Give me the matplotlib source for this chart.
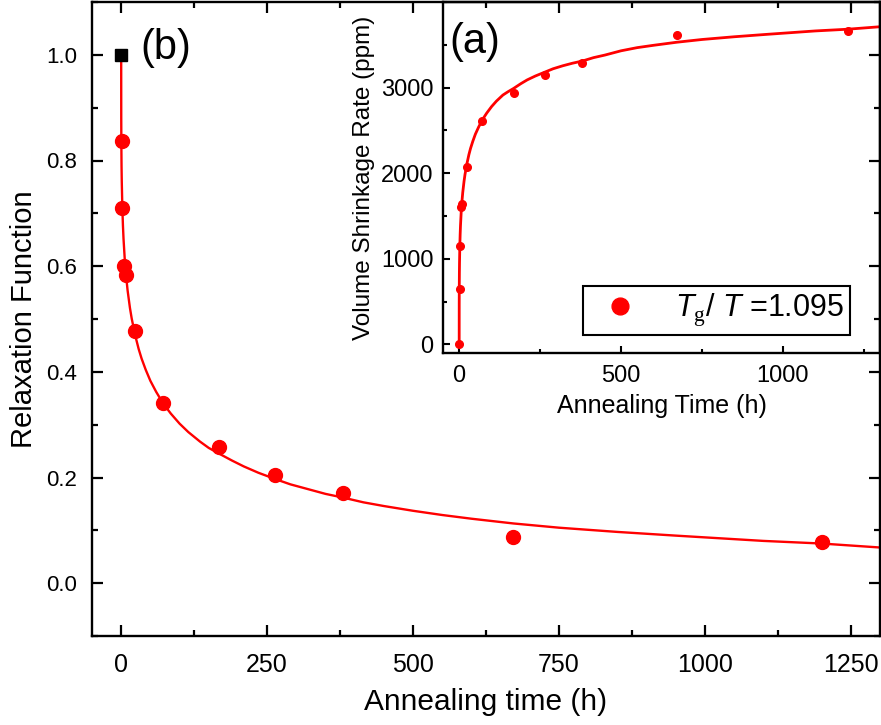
import numpy as np
import matplotlib.pyplot as plt
from matplotlib.ticker import MultipleLocator

plt.rcParams['font.family'] = ['Liberation Sans', 'Noto Sans CJK JP', 'DejaVu Sans']
plt.rcParams['mathtext.fontset'] = 'custom'
plt.rcParams['mathtext.it'] = 'Liberation Sans:italic'
plt.rcParams['mathtext.rm'] = 'Liberation Serif'

# relaxation function (b)
t_b = [1, 2, 5, 8, 24, 72, 168, 264, 380, 672, 1200]
phi_b = [0.837, 0.711, 0.600, 0.584, 0.477, 0.341, 0.257, 0.205, 0.171, 0.087, 0.077]
t_start = [0]
phi_start = [1.0]

# volume shrinkage (a)
t_a = [0, 1, 2, 5, 8, 24, 72, 168, 264, 380, 672, 1200]
v_a = [0, 649, 1146, 1601, 1644, 2072, 2615, 2942, 3148, 3292, 3618, 3661]

# fitted curves
t_fit = [0, 0.1, 0.3, 0.6, 1, 2, 3, 4, 6, 8, 11, 15, 18, 24, 30, 35, 42, 50, 60,
         72, 85, 100, 115, 135, 150, 168, 190, 210, 235, 264, 290, 320, 350, 380,
         415, 450, 500, 550, 600, 672, 750, 850, 950, 1100, 1200, 1300]
phi_fit = [1.0, 0.88, 0.83, 0.79, 0.76, 0.71, 0.677, 0.652, 0.615, 0.586, 0.554,
           0.521, 0.501, 0.469, 0.443, 0.425, 0.404, 0.383, 0.362, 0.340, 0.321,
           0.302, 0.286, 0.268, 0.256, 0.245, 0.232, 0.221, 0.209, 0.197, 0.187,
           0.178, 0.169, 0.162, 0.153, 0.146, 0.137, 0.129, 0.122, 0.113, 0.105,
           0.097, 0.090, 0.080, 0.075, 0.0675]
v_fit = [0, 478, 677, 836, 955, 1154, 1285, 1385, 1532, 1648, 1775, 1906, 1986,
         2113, 2217, 2289, 2372, 2456, 2539, 2627, 2702, 2778, 2842, 2913, 2950,
         2990, 3045, 3090, 3135, 3180, 3220, 3255, 3285, 3310, 3350, 3380, 3430,
         3467, 3494, 3530, 3562, 3594, 3622, 3662, 3682, 3711]

fig = plt.figure(figsize=(8.81, 7.25), dpi=100)
ax = fig.add_axes([92/881, 89/725, 788/881, 634/725])
ins = fig.add_axes([443/881, 372/725, 437/881, 351/725])
ax.set_zorder(2)
ax.patch.set_visible(False)
ins.set_zorder(1)

# main plot
ax.plot(t_fit, phi_fit, color='red', lw=1.7, zorder=2)
ax.plot(t_b, phi_b, 'o', color='red', ms=10, zorder=3)
ax.plot(t_start, phi_start, 's', color='black', ms=8.5, zorder=4)
ax.set_xlim(-50, 1300)
ax.set_ylim(-0.1, 1.1)
ax.xaxis.set_major_locator(MultipleLocator(250))
ax.xaxis.set_minor_locator(MultipleLocator(125))
ax.set_yticks([0, 0.2, 0.4, 0.6, 0.8, 1.0], ['0.0', '0.2', '0.4', '0.6', '0.8', '1.0'])
ax.yaxis.set_minor_locator(MultipleLocator(0.1))
ax.tick_params(which='both', direction='in', top=True, right=True, width=1.6)
ax.tick_params(which='major', length=8)
ax.tick_params(which='minor', length=4)
ax.tick_params(axis='y', labelsize=16, pad=10.5)
ax.tick_params(axis='x', labelsize=18, pad=12)
for s in ax.spines.values():
    s.set_linewidth(1.7)
ax.set_xlabel('Annealing time (h)', fontsize=21.5, labelpad=8)
ax.set_ylabel('Relaxation Function', fontsize=21, labelpad=6)
ax.text(0.061, 0.927, '(b)', transform=ax.transAxes, fontsize=30, va='center', ha='left')

# inset
ins.plot(t_fit, v_fit, color='red', lw=2, zorder=2)
ins.plot(t_a, v_a, 'o', color='red', ms=5.5, zorder=3,
         label=r'$T_\mathrm{g}$/ $T$ =1.095')
ins.set_xlim(-50, 1300)
ins.set_ylim(-100, 4000)
ins.set_xticks([0, 500, 1000])
ins.xaxis.set_minor_locator(MultipleLocator(250))
ins.set_yticks([0, 1000, 2000, 3000])
ins.yaxis.set_minor_locator(MultipleLocator(500))
ins.tick_params(which='both', direction='in', width=1.5, labelsize=17)
ins.tick_params(which='major', length=5)
ins.tick_params(which='minor', length=3)
ins.tick_params(axis='x', pad=9)
ins.tick_params(axis='y', pad=7)
for s in ins.spines.values():
    s.set_linewidth(1.7)
ins.set_xlabel('Annealing Time (h)', fontsize=18, labelpad=5)
ins.set_ylabel('Volume Shrinkage Rate (ppm)', fontsize=17.5, labelpad=4)
ins.text(0.015, 0.885, '(a)', transform=ins.transAxes, fontsize=30, va='center', ha='left')
leg = ins.legend(loc='lower right', bbox_to_anchor=(0.931, 0.051), borderaxespad=0,
                 fontsize=22, frameon=True, fancybox=False, edgecolor='black',
                 framealpha=1, markerscale=2.2, handlelength=2.0,
                 handletextpad=0.8, borderpad=0.2)
leg.get_frame().set_linewidth(1.5)

fig.savefig('out.png', dpi=100)
